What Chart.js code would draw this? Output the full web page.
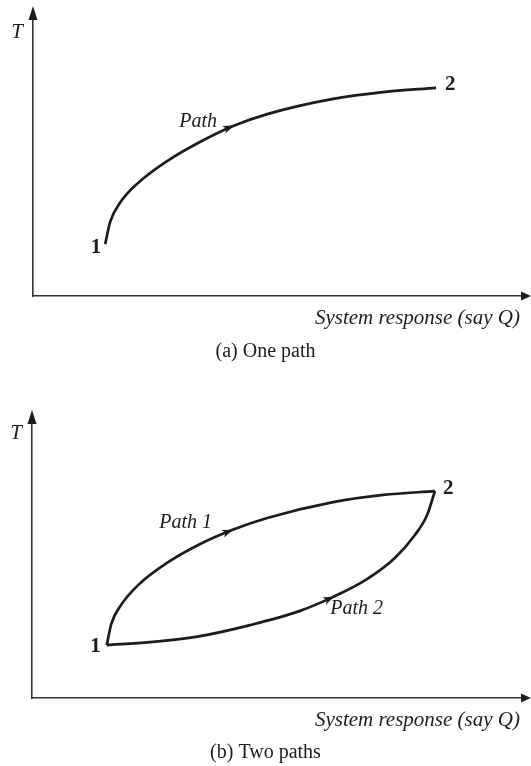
<!DOCTYPE html>
<html>
<head>
<meta charset="utf-8">
<script src="https://cdn.jsdelivr.net/npm/chart.js@4"></script>
<style>
    html, body { margin: 0; padding: 0; background: #fff; }
    #wrap { position: relative; width: 531px; height: 766px; }
    .panel { position: absolute; left: 0; }
</style>
</head>
<body>
<div id="wrap">
    <div class="panel" style="top:0"><canvas id="chartA" width="531" height="380"></canvas></div>
    <div class="panel" style="top:380px"><canvas id="chartB" width="531" height="386"></canvas></div>
</div>
<script>
// (a) one path from state 1 to state 2
const pathX = [1.48, 1.58, 1.78, 2.15, 2.75, 3.42, 4.10, 4.80, 6.15, 7.17, 8.26];
const pathY = [1.88, 2.68, 3.37, 4.09, 4.89, 5.58, 6.16, 6.59, 7.14, 7.39, 7.54];

// (b) two paths between the same states
const path1X = [1.53, 1.62, 1.82, 2.17, 2.76, 3.44, 4.09, 4.81, 6.16, 7.18, 8.24];
const path1Y = [1.93, 2.70, 3.39, 4.12, 4.93, 5.62, 6.13, 6.57, 7.15, 7.41, 7.55];
const path2X = [1.53, 2.41, 3.44, 4.46, 5.48, 6.16, 6.85, 7.42, 7.83, 8.08, 8.24];
const path2Y = [1.93, 2.04, 2.26, 2.66, 3.18, 3.69, 4.34, 5.11, 5.95, 6.68, 7.55];

const xLabel = 'System response (say Q)';
const yLabel = 'T';

const INK = '#1c1c1c';
const SERIF = "'Liberation Serif', 'Times New Roman', serif";

function toPoints(xs, ys) {
    return xs.map((x, i) => ({ x: x, y: ys[i] }));
}

function curve(xs, ys) {
    return {
        data: toPoints(xs, ys),
        borderColor: INK,
        borderWidth: 2.7,
        pointRadius: 0,
        fill: false,
        cubicInterpolationMode: 'monotone',
        clip: false
    };
}

// draws axis arrowheads, path arrows and all the text
const sketchPlugin = {
    id: 'sketch',
    afterDatasetsDraw(chart, args, opts) {
        const ctx = chart.ctx;
        const area = chart.chartArea;
        ctx.save();
        ctx.fillStyle = INK;

        // axis arrowheads
        ctx.beginPath();
        ctx.moveTo(area.left, area.top - 14);
        ctx.lineTo(area.left - 4.5, area.top);
        ctx.lineTo(area.left + 4.5, area.top);
        ctx.closePath();
        ctx.fill();
        ctx.beginPath();
        ctx.moveTo(area.right + 10, area.bottom);
        ctx.lineTo(area.right, area.bottom - 4.5);
        ctx.lineTo(area.right, area.bottom + 4.5);
        ctx.closePath();
        ctx.fill();

        // arrows along the paths
        (opts.arrows || []).forEach(a => {
            const p = chart.getDatasetMeta(a.ds).data[a.idx];
            const ang = Math.atan2(p.cp2y - p.cp1y, p.cp2x - p.cp1x);
            ctx.save();
            ctx.translate(p.x, p.y);
            ctx.rotate(ang);
            ctx.beginPath();
            ctx.moveTo(1, 0);
            ctx.lineTo(-10, -4);
            ctx.lineTo(-7, 0);
            ctx.lineTo(-10, 4);
            ctx.closePath();
            ctx.fill();
            ctx.restore();
        });

        ctx.textBaseline = 'middle';

        // labels tied to data points
        (opts.labels || []).forEach(l => {
            const p = chart.getDatasetMeta(l.ds).data[l.idx];
            ctx.font = l.font;
            ctx.textAlign = l.align;
            ctx.fillText(l.text, p.x + l.dx, p.y + l.dy);
        });

        // axis titles
        ctx.font = 'italic 21px ' + SERIF;
        ctx.textAlign = 'center';
        ctx.fillText(yLabel, area.left - 16, area.top + opts.tOffset);
        ctx.textAlign = 'right';
        ctx.fillText(xLabel, area.right - 1, area.bottom + 22);

        // caption
        ctx.font = '20px ' + SERIF;
        ctx.textAlign = 'center';
        ctx.fillText(opts.caption, chart.width / 2, opts.captionY);
        ctx.restore();
    }
};

function axes() {
    const common = {
        type: 'linear',
        min: 0,
        max: 10,
        grid: { display: false, drawTicks: false },
        ticks: { display: false },
        border: { display: true, color: '#333', width: 1.6 }
    };
    return { x: Object.assign({}, common), y: Object.assign({}, common) };
}

const boldNum = 'bold 21px ' + SERIF;
const italicLbl = 'italic 20px ' + SERIF;

new Chart(document.getElementById('chartA'), {
    type: 'line',
    data: { datasets: [curve(pathX, pathY)] },
    options: {
        responsive: false,
        animation: false,
        events: [],
        layout: { padding: { left: 33, top: 20, right: 10, bottom: 84 } },
        scales: axes(),
        plugins: {
            legend: { display: false },
            tooltip: { enabled: false },
            sketch: {
                caption: '(a) One path',
                captionY: 352,
                tOffset: 12,
                arrows: [{ ds: 0, idx: 6 }],
                labels: [
                    { text: '1', ds: 0, idx: 0, dx: -4, dy: 3, align: 'right', font: boldNum },
                    { text: '2', ds: 0, idx: 10, dx: 9, dy: -3, align: 'left', font: boldNum },
                    { text: 'Path', ds: 0, idx: 6, dx: -16, dy: -4, align: 'right', font: italicLbl }
                ]
            }
        }
    },
    plugins: [sketchPlugin]
});

new Chart(document.getElementById('chartB'), {
    type: 'line',
    data: { datasets: [curve(path1X, path1Y), curve(path2X, path2Y)] },
    options: {
        responsive: false,
        animation: false,
        events: [],
        layout: { padding: { left: 32, top: 44, right: 10, bottom: 68 } },
        scales: axes(),
        plugins: {
            legend: { display: false },
            tooltip: { enabled: false },
            sketch: {
                caption: '(b) Two paths',
                captionY: 373,
                tOffset: 9,
                arrows: [{ ds: 0, idx: 6 }, { ds: 1, idx: 5 }],
                labels: [
                    { text: '1', ds: 0, idx: 0, dx: -6, dy: 1, align: 'right', font: boldNum },
                    { text: '2', ds: 0, idx: 10, dx: 8, dy: -3, align: 'left', font: boldNum },
                    { text: 'Path 1', ds: 0, idx: 6, dx: -20, dy: -7, align: 'right', font: italicLbl },
                    { text: 'Path 2', ds: 1, idx: 5, dx: -3, dy: 12, align: 'left', font: italicLbl }
                ]
            }
        }
    },
    plugins: [sketchPlugin]
});
</script>
</body>
</html>
